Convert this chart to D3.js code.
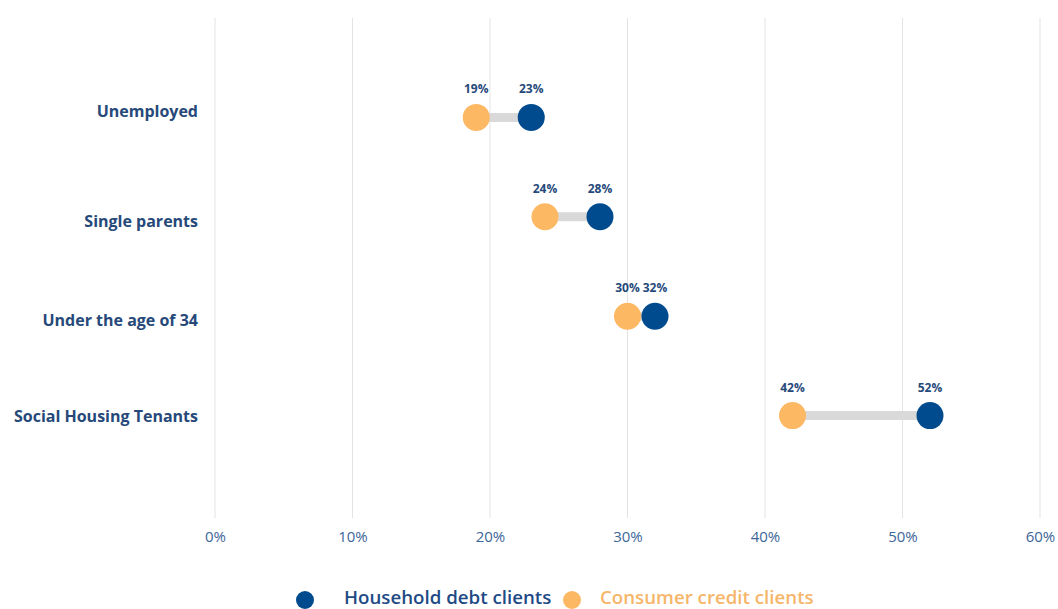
<!DOCTYPE html>
<html>
<head>
<meta charset="utf-8">
<script src="https://cdn.jsdelivr.net/npm/d3@7"></script>
<style>
  html, body { margin: 0; padding: 0; background: #fff; }
  svg { display: block; font-family: "Open Sans", "Noto Sans", sans-serif; }
</style>
</head>
<body>
<svg id="chart" width="1058" height="609"></svg>
<script>
// Share of clients in each group, by client type (percent)
const categories = ["Unemployed", "Single parents", "Under the age of 34", "Social Housing Tenants"];
const householdDebt = [23, 28, 32, 52];
const consumerCredit = [19, 24, 30, 42];
const xTicks = [0, 10, 20, 30, 40, 50, 60];
const seriesNames = ["Household debt clients", "Consumer credit clients"];

const colors = { household: "#004b8d", consumer: "#fdb863", link: "#d9d9d9",
  label: "#26497a", tick: "#3d6698", legendBlue: "#1e4a85", legendOrange: "#f6b66a" };

const svg = d3.select("#chart");
const plot = { left: 215, right: 1040, top: 18, bottom: 515 };

const x = d3.scaleLinear().domain([0, 60]).range([plot.left, plot.right]);
const y = d3.scalePoint().domain(categories).range([plot.top, plot.bottom]).padding(1);

// vertical grid
svg.append("g").selectAll("line").data(xTicks).join("line")
  .attr("x1", d => x(d)).attr("x2", d => x(d))
  .attr("y1", plot.top).attr("y2", plot.bottom + 3)
  .attr("stroke", "#e3e3e3").attr("stroke-width", 1);

// x axis labels
const xAxis = d3.axisBottom(x).tickValues(xTicks).tickFormat(d => d + "%").tickSize(0).tickPadding(0);
const gx = svg.append("g").attr("transform", `translate(0,${plot.bottom + 16})`).call(xAxis);
gx.select(".domain").remove();
gx.selectAll("text").attr("font-size", 15).attr("fill", colors.tick)
  .attr("font-family", "'Open Sans', sans-serif").attr("dy", "0.71em");

// category labels (small vertical nudges for legibility)
const labelNudge = [-6, 5, 4, 1];
svg.append("g").selectAll("text").data(categories).join("text")
  .attr("x", 198).attr("y", (d, i) => y(d) + labelNudge[i]).attr("dy", "0.35em")
  .attr("text-anchor", "end").attr("font-size", 16).attr("font-weight", 700)
  .attr("fill", colors.label).text(d => d);

const rows = categories.map((c, i) => ({ c, h: householdDebt[i], k: consumerCredit[i] }));

// connectors
svg.append("g").selectAll("line").data(rows).join("line")
  .attr("x1", d => x(d.k)).attr("x2", d => x(d.h))
  .attr("y1", d => y(d.c)).attr("y2", d => y(d.c))
  .attr("stroke", colors.link).attr("stroke-width", 9);

const r = 13.5;
svg.append("g").selectAll("circle").data(rows).join("circle")
  .attr("cx", d => x(d.k)).attr("cy", d => y(d.c)).attr("r", r).attr("fill", colors.consumer);
svg.append("g").selectAll("circle").data(rows).join("circle")
  .attr("cx", d => x(d.h)).attr("cy", d => y(d.c)).attr("r", r).attr("fill", colors.household);

// value labels
const vals = rows.flatMap(d => [{ c: d.c, v: d.k }, { c: d.c, v: d.h }]);
svg.append("g").selectAll("text").data(vals).join("text")
  .attr("x", d => x(d.v)).attr("y", d => y(d.c) - 24)
  .attr("text-anchor", "middle").attr("font-size", 12).attr("font-weight", 700)
  .attr("fill", colors.label).text(d => d.v + "%");

// legend
const lg = svg.append("g").attr("transform", "translate(0,600)");
lg.append("circle").attr("cx", 305).attr("cy", 0).attr("r", 9).attr("fill", colors.household);
lg.append("text").attr("x", 344).attr("y", 4).attr("font-size", 18.7).attr("font-weight", 600)
  .attr("fill", colors.legendBlue).text(seriesNames[0]);
lg.append("circle").attr("cx", 572).attr("cy", 0).attr("r", 9).attr("fill", colors.consumer);
lg.append("text").attr("x", 600).attr("y", 4).attr("font-size", 18.7).attr("font-weight", 600)
  .attr("fill", colors.legendOrange).text(seriesNames[1]);
</script>
</body>
</html>
